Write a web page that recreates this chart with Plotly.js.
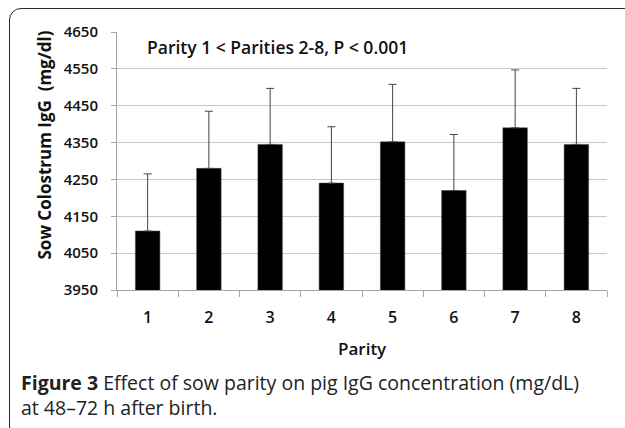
<!DOCTYPE html>
<html>
<head>
<meta charset="utf-8">
<script src="https://cdn.plot.ly/plotly-3.0.1.min.js"></script>
<style>
html,body{margin:0;padding:0;background:#fff;width:625px;height:428px;overflow:hidden;}
#frame{position:absolute;left:9px;top:8px;width:640px;height:430px;border:1.6px solid #2a2a2a;border-radius:12px;box-sizing:border-box;}
#chart{position:absolute;left:0;top:0;width:625px;height:428px;}
</style>
</head>
<body>
<div id="chart"></div>
<div id="frame"></div>
<script>
const parity = ['1','2','3','4','5','6','7','8'];
const igg = [4110, 4280, 4345, 4240, 4352, 4220, 4390, 4345];
const sdUp = [155, 155, 152, 153, 156, 152, 157, 152];
const yTicks = [3950, 4050, 4150, 4250, 4350, 4450, 4550, 4650];

const W = 625, H = 428, L = 117, R = 607, T = 32, B = 290;
const px = x => (x - L) / (R - L);
const py = y => (B - y) / (B - T);

const FAM = 'Open Sans, sans-serif';
const tickFont = {family: FAM, size: 15, color: '#111', weight: 600};

const trace = {
  type: 'bar',
  x: parity,
  y: igg,
  marker: {color: '#000', line: {color: '#444', width: 0.5}},
  error_y: {type: 'data', array: sdUp, arrayminus: sdUp.map(() => 0), symmetric: false,
            color: '#444', thickness: 1, width: 4},
  hoverinfo: 'x+y'
};

const layout = {
  width: W, height: H,
  margin: {l: L, r: W - R, t: T, b: H - B, pad: 0},
  paper_bgcolor: '#fff', plot_bgcolor: '#fff',
  showlegend: false,
  bargap: 0.6,
  xaxis: {
    type: 'category',
    showline: true, linecolor: '#a6a6a6', linewidth: 1,
    ticks: 'outside', tickson: 'boundaries', ticklen: 6, tickcolor: '#a6a6a6',
    showgrid: false,
    tickfont: Object.assign({}, tickFont, {size: 16}),
    ticklabelstandoff: 13
  },
  yaxis: {
    range: [3950, 4650],
    tickvals: yTicks,
    ticktext: yTicks.map(String),
    showline: true, linecolor: '#a6a6a6', linewidth: 1,
    ticks: 'outside', ticklen: 5, tickcolor: '#a6a6a6',
    showgrid: true, gridcolor: '#c8c8c8', gridwidth: 1,
    zeroline: false,
    tickfont: tickFont,
    ticklabelstandoff: 10
  },
  annotations: [
    {text: 'Parity 1 &lt; Parities 2-8, P &lt; 0.001', xref: 'paper', yref: 'paper',
     x: px(145), y: py(46.5), xanchor: 'left', yanchor: 'middle', showarrow: false,
     font: {family: FAM, size: 17.5, color: '#111', weight: 600}},
    {text: 'Sow Colostrum IgG  (mg/dl)', xref: 'paper', yref: 'paper',
     x: px(43.5), y: py(145), xanchor: 'center', yanchor: 'middle', textangle: -90, showarrow: false,
     font: {family: FAM, size: 17, color: '#111', weight: 700}},
    {text: 'Parity', xref: 'paper', yref: 'paper',
     x: 0.5, y: py(348), xanchor: 'center', yanchor: 'middle', showarrow: false,
     font: {family: FAM, size: 17, color: '#111', weight: 600}},
    {text: '<b>Figure 3</b> Effect of sow parity on pig IgG concentration (mg/dL)<br>at 48–72 h after birth.',
     xref: 'paper', yref: 'paper', align: 'left',
     x: px(19), y: py(395), xanchor: 'left', yanchor: 'middle', showarrow: false,
     font: {family: FAM, size: 19.5, color: '#222', weight: 500}}
  ]
};

Plotly.newPlot('chart', [trace], layout, {displayModeBar: false, staticPlot: true});
</script>
</body>
</html>
